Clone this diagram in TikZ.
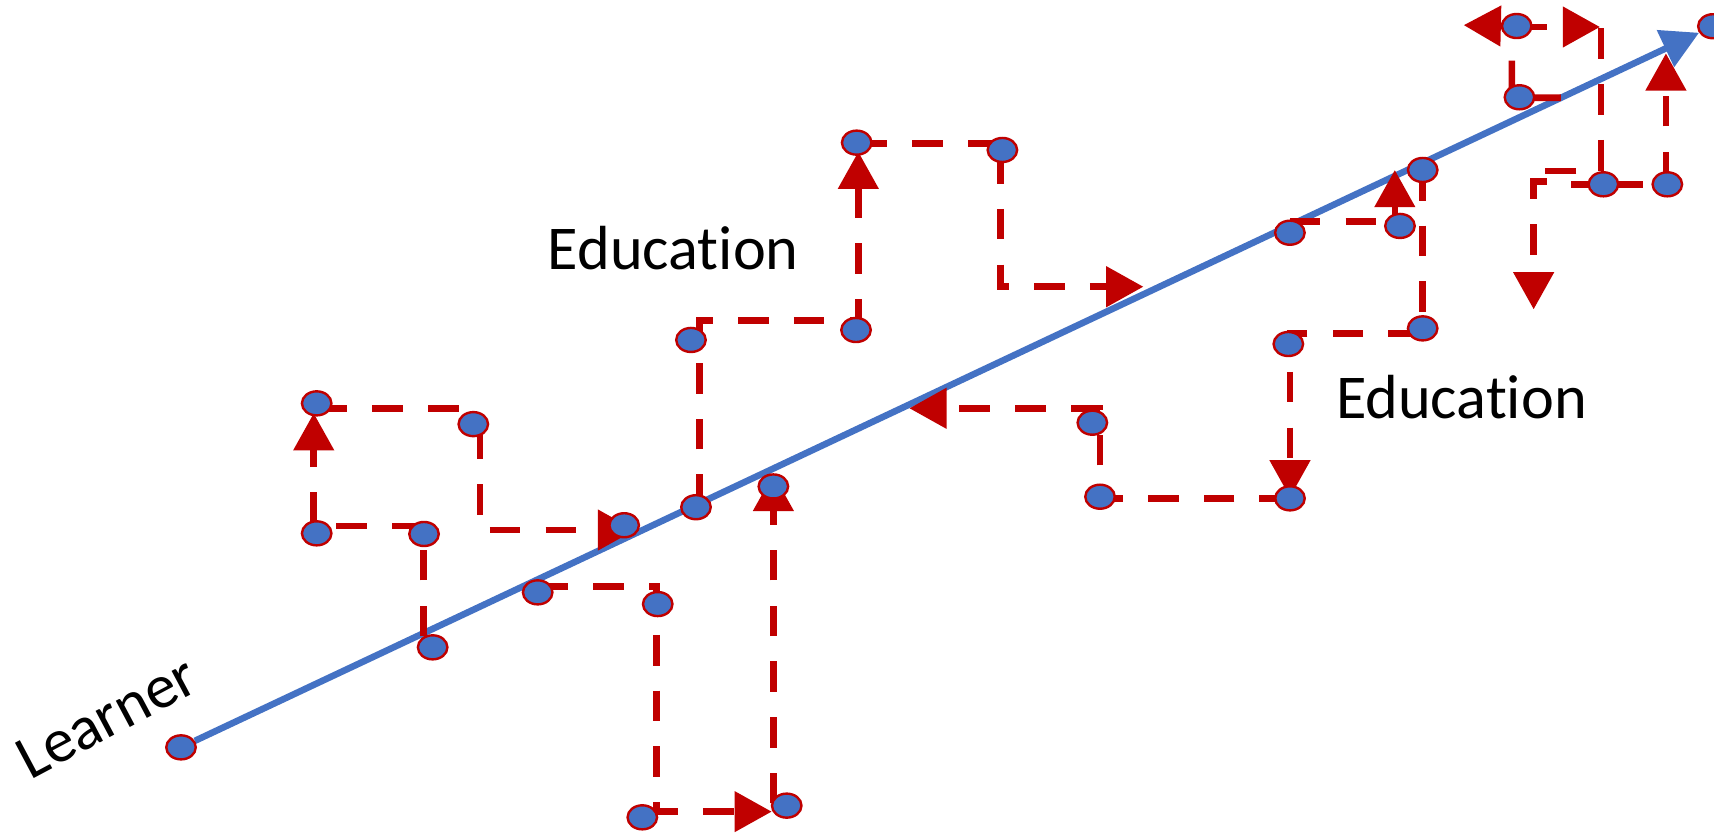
\documentclass[tikz,border=0pt]{standalone}
\usepackage{fontspec}
\setmainfont{Carlito}[Ligatures={NoCommon}]
\usetikzlibrary{arrows.meta,shapes.geometric,backgrounds}
\definecolor{lineblue}{HTML}{4472C4}
\definecolor{darkred}{HTML}{C00000}
\begin{document}
\begin{tikzpicture}[x=1pt,y=-1pt,
  bead/.style={ellipse,draw=darkred,fill=lineblue,line width=2.2pt,minimum width=27pt,minimum height=22pt,inner sep=0pt},
  redflow/.style={draw=darkred,line width=6pt,dash pattern=on 28pt off 23pt},
  redsolid/.style={draw=darkred,line width=6pt},
  redarrow/.style={redflow,-{Triangle[length=34pt,width=36pt]}},
  trunk/.style={draw=lineblue,line width=6pt,-{Triangle[length=34pt,width=36pt]}},
  lbl/.style={font=\fontsize{57pt}{68pt}\selectfont,inner sep=0pt}]
\path[use as bounding box] (0,0) rectangle (1568,762);

% dots
\node[bead] (d1) at (165.6,683.7) {};
\node[bead] (d2) at (395.8,592.2) {};
\node[bead] (d3) at (387.9,488.5) {};
\node[bead] (d4) at (289.7,487.9) {};
\node[bead] (d5) at (289.7,369) {};
\node[bead] (d6) at (433,388) {};
\node[bead] (d7) at (571,480.5) {};
\node[bead] (d8) at (491.9,541.9) {};
\node[bead] (d9) at (601.7,552.6) {};
\node[bead] (d10) at (587.6,747.7) {};
\node[bead] (d11) at (719.7,737) {};
\node[bead] (d12) at (707.5,445) {};
\node[bead] (d13) at (636.7,464) {};
\node[bead] (d14) at (632.1,311) {};
\node[bead] (d15) at (783.1,301.9) {};
\node[bead] (d16) at (783.7,130.5) {};
\node[bead] (d17) at (917,137.2) {};
\node[bead] (d18) at (999.3,386.7) {};
\node[bead] (d19) at (1006.3,454.4) {};
\node[bead] (d20) at (1180.1,455.9) {};
\node[bead] (d21) at (1178.6,314.7) {};
\node[bead] (d22) at (1301.5,300.4) {};
\node[bead] (d23) at (1301.5,155.5) {};
\node[bead] (d24) at (1280.7,206.7) {};
\node[bead] (d25) at (1180,212.9) {};
\node[bead] (d26) at (1390,89) {};
\node[bead] (d27) at (1387.5,23.8) {};
\node[bead] (d28) at (1466.8,168.6) {};
\node[bead] (d29) at (1525.3,168.6) {};
\node[bead] (d30) at (1567,24) {};

% labels
\node[lbl,anchor=base west] (edu1) at (501,247) {Education};
\node[lbl,anchor=base west] (edu2) at (1222,382.7) {Education};
\node[lbl,anchor=base,rotate=28] (learner) at (106,672) {Learner};

% corner coordinates
\coordinate (a0) at (387.3,582);
\coordinate (a1) at (387.3,481);
\coordinate (a2) at (287,481);
\coordinate (a3) at (287,378);
\coordinate (b0) at (289.7,373.5);
\coordinate (b1) at (430,373.5);
\coordinate (b2) at (439,392);
\coordinate (b3) at (439,484.9);
\coordinate (b4) at (581,484.9);
\coordinate (c0) at (491.9,536.7);
\coordinate (c1) at (600.7,536.7);
\coordinate (c2) at (600.7,742.5);
\coordinate (c3) at (706,742.5);
\coordinate (c4) at (707.5,735);
\coordinate (c5) at (707.5,433.5);
\coordinate (e0) at (639.8,462);
\coordinate (e1) at (639.8,293.4);
\coordinate (e2) at (785.2,293.4);
\coordinate (e3) at (785.2,138.8);
\coordinate (f0) at (783.7,131.1);
\coordinate (f1) at (912,131.1);
\coordinate (f2) at (915.4,140);
\coordinate (f3) at (915.4,262.3);
\coordinate (f4) at (1046,262.3);
\coordinate (g0) at (1301.5,155.5);
\coordinate (g1) at (1301.5,305);
\coordinate (g2) at (1180.1,305);
\coordinate (g3) at (1180.1,455);
\coordinate (h0) at (1180.1,455.9);
\coordinate (h1) at (1006.3,455.9);
\coordinate (h2) at (1006.3,373.5);
\coordinate (h3) at (831.9,373.5);
\coordinate (i0) at (1180,202.8);
\coordinate (i1) at (1276,202.8);
\coordinate (i2) at (1276,155.5);
\coordinate (j0) at (1428,89.4);
\coordinate (j1) at (1383,89.4);
\coordinate (j2) at (1383,24);
\coordinate (j3) at (1339,23);
\coordinate (k0) at (1387.5,24.7);
\coordinate (k1) at (1463.7,24.7);
\coordinate (l0) at (1464.6,26);
\coordinate (l1) at (1464.6,168.6);
\coordinate (l2) at (1524,168.6);
\coordinate (l3) at (1524,48.8);
\coordinate (m0) at (1466.8,168.6);
\coordinate (m1) at (1437,168.6);
\coordinate (n0) at (1442,156.4);
\coordinate (n1) at (1413,156.4);
\coordinate (o0) at (1415,166);
\coordinate (o1) at (1403,166);
\coordinate (o2) at (1403,283);

\begin{pgfonlayer}{background}
\draw[trunk] (d1) -- (d30);
\draw[redarrow] (a0) -- (a1) -- (a2) -- (a3);
\draw[redflow] (b0) -- (b1);
\draw[redarrow] (b2) -- (b3) -- (b4);
\draw[redarrow] (c0) -- (c1) -- (c2) -- (c3);
\draw[redarrow] (c4) -- (c5);
\draw[redarrow] (e0) -- (e1) -- (e2) -- (e3);
\draw[redflow] (f0) -- (f1);
\draw[redarrow] (f2) -- (f3) -- (f4);
\draw[redarrow] (g0) -- (g1) -- (g2) -- (g3);
\draw[redarrow] (h0) -- (h1) -- (h2) -- (h3);
\draw[redarrow] (i0) -- (i1) -- (i2);
\draw[redarrow] (j0) -- (j1) -- (j2) -- (j3);
\draw[redarrow] (k0) -- (k1);
\draw[redarrow] (l0) -- (l1) -- (l2) -- (l3);
\draw[redsolid] (m0) -- (m1);
\draw[redsolid] (n0) -- (n1);
\draw[redarrow] (o0) -- (o1) -- (o2);
\end{pgfonlayer}
\end{tikzpicture}
\end{document}
